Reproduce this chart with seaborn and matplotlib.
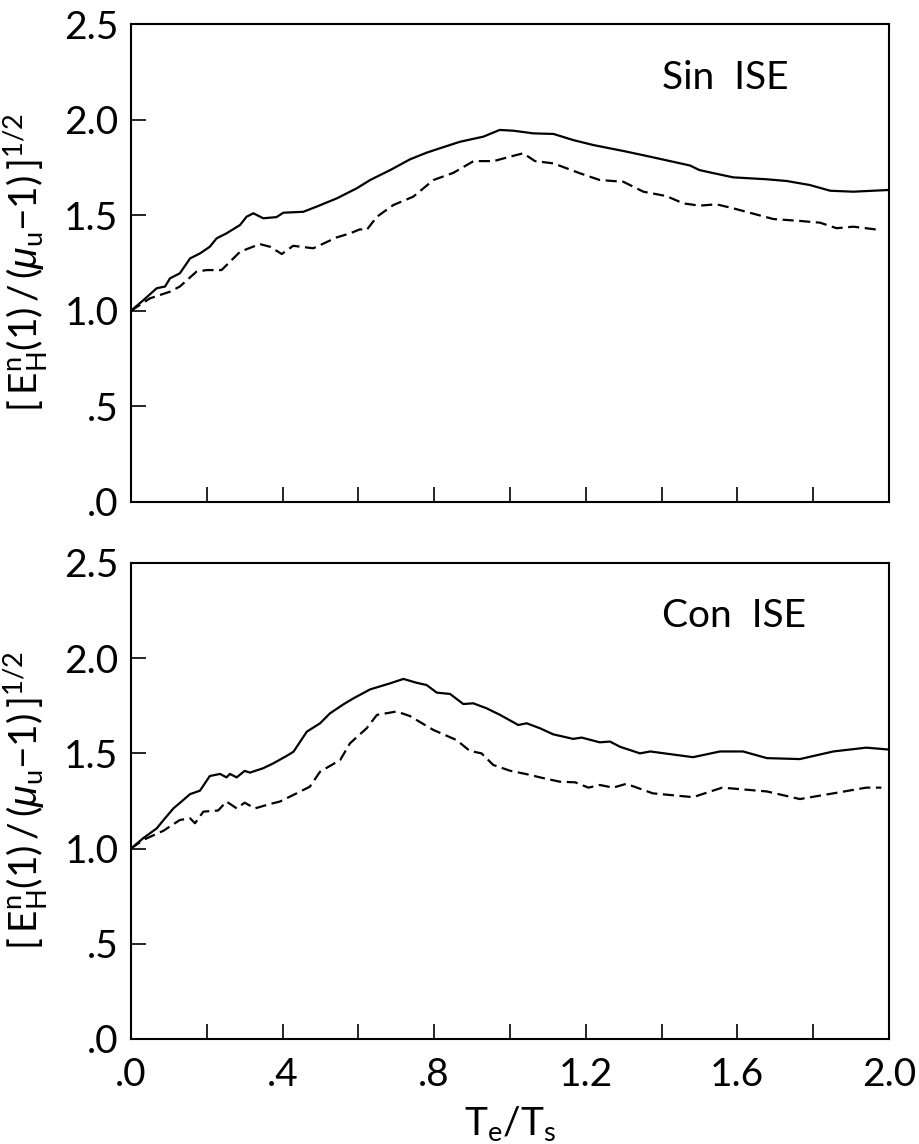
import matplotlib
matplotlib.use("Agg")
import matplotlib.pyplot as plt
import seaborn as sns
import numpy as np

# ---------------- data ----------------
panel_labels = ["Sin  ISE", "Con  ISE"]

sin_solid_x = [0.0, 0.033, 0.068, 0.09, 0.103, 0.129, 0.156, 0.182, 0.208, 0.226, 0.252, 0.288,
               0.305, 0.323, 0.349, 0.384, 0.402, 0.455, 0.49, 0.543, 0.596, 0.631, 0.684, 0.736,
               0.78, 0.815, 0.868, 0.93, 0.973, 1.009, 1.062, 1.115, 1.167, 1.22, 1.299, 1.37,
               1.475, 1.50, 1.537, 1.589, 1.677, 1.73, 1.791, 1.845, 1.906, 2.0]
sin_solid_y = [1.0, 1.056, 1.118, 1.127, 1.17, 1.196, 1.274, 1.30, 1.335, 1.379, 1.405, 1.449,
               1.492, 1.51, 1.484, 1.49, 1.513, 1.518, 1.545, 1.588, 1.641, 1.684, 1.736, 1.792,
               1.827, 1.85, 1.884, 1.911, 1.946, 1.942, 1.928, 1.925, 1.893, 1.867, 1.836, 1.806,
               1.76, 1.736, 1.72, 1.698, 1.688, 1.679, 1.658, 1.628, 1.623, 1.632]

sin_dash_x = [0.0, 0.05, 0.103, 0.129, 0.173, 0.2, 0.239, 0.288, 0.34, 0.367, 0.398, 0.428,
              0.481, 0.543, 0.578, 0.604, 0.622, 0.649, 0.692, 0.745, 0.798, 0.851, 0.904,
              0.957, 1.0, 1.035, 1.066, 1.115, 1.185, 1.237, 1.299, 1.352, 1.413, 1.457, 1.5,
              1.545, 1.589, 1.695, 1.765, 1.818, 1.862, 1.906, 1.976]
sin_dash_y = [1.0, 1.065, 1.10, 1.127, 1.205, 1.213, 1.213, 1.309, 1.349, 1.335, 1.297, 1.34,
              1.327, 1.384, 1.405, 1.426, 1.423, 1.492, 1.553, 1.597, 1.684, 1.722, 1.783,
              1.783, 1.806, 1.824, 1.783, 1.771, 1.719, 1.684, 1.675, 1.623, 1.60, 1.562, 1.55,
              1.557, 1.536, 1.48, 1.47, 1.461, 1.432, 1.44, 1.423]

con_solid_x = [0.0, 0.032, 0.068, 0.086, 0.112, 0.138, 0.156, 0.182, 0.208, 0.235, 0.252, 0.261,
               0.279, 0.30, 0.314, 0.349, 0.376, 0.411, 0.429, 0.464, 0.499, 0.525, 0.561, 0.587,
               0.631, 0.684, 0.719, 0.753, 0.78, 0.807, 0.842, 0.877, 0.903, 0.938, 0.974, 1.022,
               1.044, 1.079, 1.114, 1.167, 1.189, 1.237, 1.264, 1.29, 1.343, 1.37, 1.483, 1.554,
               1.615, 1.678, 1.765, 1.853, 1.94, 2.0]
con_solid_y = [1.0, 1.054, 1.106, 1.15, 1.211, 1.255, 1.286, 1.304, 1.381, 1.392, 1.374, 1.392,
               1.374, 1.408, 1.399, 1.422, 1.448, 1.487, 1.509, 1.614, 1.658, 1.71, 1.758, 1.789,
               1.836, 1.868, 1.891, 1.871, 1.859, 1.819, 1.812, 1.759, 1.763, 1.737, 1.702, 1.649,
               1.658, 1.632, 1.60, 1.576, 1.583, 1.558, 1.562, 1.535, 1.50, 1.51, 1.48, 1.51,
               1.51, 1.475, 1.47, 1.51, 1.53, 1.52]

con_dash_x = [0.0, 0.032, 0.086, 0.129, 0.156, 0.169, 0.191, 0.23, 0.252, 0.279, 0.30, 0.327,
              0.367, 0.393, 0.437, 0.472, 0.499, 0.552, 0.578, 0.622, 0.649, 0.701, 0.736,
              0.798, 0.859, 0.894, 0.925, 0.956, 1.0, 1.053, 1.079, 1.132, 1.172, 1.207, 1.237,
              1.272, 1.307, 1.377, 1.483, 1.56, 1.678, 1.765, 1.853, 1.94, 1.98]
con_dash_y = [1.0, 1.045, 1.094, 1.15, 1.159, 1.133, 1.194, 1.20, 1.247, 1.211, 1.241, 1.211,
              1.234, 1.247, 1.29, 1.325, 1.404, 1.465, 1.553, 1.632, 1.702, 1.72, 1.696,
              1.623, 1.57, 1.513, 1.50, 1.439, 1.409, 1.387, 1.374, 1.351, 1.348, 1.32, 1.334,
              1.32, 1.34, 1.29, 1.27, 1.32, 1.30, 1.26, 1.29, 1.32, 1.32]

x_ticks = [0.0, 0.2, 0.4, 0.6, 0.8, 1.0, 1.2, 1.4, 1.6, 1.8, 2.0]
x_ticklabels = [".0", "", ".4", "", ".8", "", "1.2", "", "1.6", "", "2.0"]
y_ticks = [0.0, 0.5, 1.0, 1.5, 2.0, 2.5]
y_ticklabels = [".0", ".5", "1.0", "1.5", "2.0", "2.5"]

ylabel = r"$\mathrm{[\,E_H^n(1)\,/\,(}\mathit{\mu}_\mathrm{u}\mathrm{-1)\,]^{1/2}}$"
xlabel = r"$\mathrm{T_e/T_s}$"

# ---------------- style ----------------
sns.set_theme(style="white")
fam = ["Lato", "Liberation Sans", "DejaVu Sans"]
plt.rcParams["font.family"] = fam
plt.rcParams["font.weight"] = "normal"
plt.rcParams["text.color"] = "black"
plt.rcParams["axes.labelcolor"] = "black"
plt.rcParams["xtick.color"] = "black"
plt.rcParams["ytick.color"] = "black"
plt.rcParams["mathtext.fontset"] = "custom"
plt.rcParams["mathtext.rm"] = "Lato"
plt.rcParams["mathtext.it"] = "Liberation Sans:italic"
plt.rcParams["mathtext.default"] = "regular"

fs = 28
fig = plt.figure(figsize=(9.19, 11.44), dpi=100)
ax_top = fig.add_axes([0.1425, 0.5612, 0.8248, 0.4178])
ax_bot = fig.add_axes([0.1425, 0.0918, 0.8248, 0.4161])

panels = [
    (ax_top, sin_solid_x, sin_solid_y, sin_dash_x, sin_dash_y, panel_labels[0]),
    (ax_bot, con_solid_x, con_solid_y, con_dash_x, con_dash_y, panel_labels[1]),
]

for i, (ax, sx, sy, dx, dy, lab) in enumerate(panels):
    sns.lineplot(x=sx, y=sy, ax=ax, color="black", linewidth=1.6, sort=False)
    sns.lineplot(x=dx, y=dy, ax=ax, color="black", linewidth=1.6, sort=False,
                 linestyle=(0, (5, 2.5)))
    ax.set_xlim(0, 2.0)
    ax.set_ylim(0, 2.5)
    ax.set_xticks(x_ticks)
    ax.set_yticks(y_ticks)
    ax.set_yticklabels(y_ticklabels)
    if i == 1:
        ax.set_xticklabels(x_ticklabels)
        ax.set_xlabel(xlabel, fontsize=fs, labelpad=8)
    else:
        ax.set_xticklabels([])
    ax.set_ylabel(ylabel, fontsize=fs, labelpad=10)
    ax.tick_params(axis="both", direction="in", length=11, width=1.2, color="black",
                   labelsize=fs, pad=9, top=False, right=False, bottom=True, left=True)
    ax.tick_params(axis="x", pad=13)
    for sp in ax.spines.values():
        sp.set_visible(True)
        sp.set_color("black")
        sp.set_linewidth(1.5)
    ax.text(1.40, 2.22, lab, fontsize=fs, ha="left", va="center", color="black")
    ax.set_facecolor("white")

fig.savefig("out.png", dpi=100, facecolor="white")
